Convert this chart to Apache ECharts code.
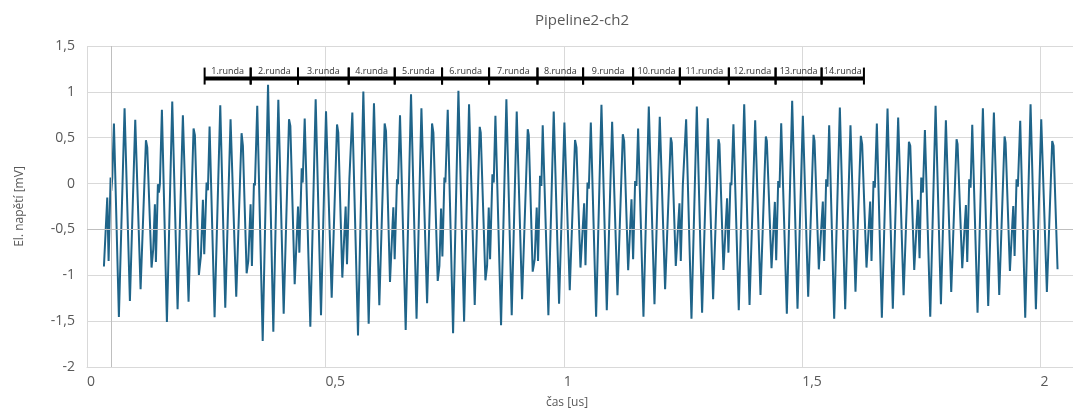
<!DOCTYPE html>
<html>
<head>
<meta charset="utf-8">
<title>Pipeline2-ch2</title>
<script src="https://cdn.jsdelivr.net/npm/echarts@6/dist/echarts.min.js"></script>
<style>
    html, body { margin: 0; padding: 0; background: #fff; }
    #chart { width: 1073px; height: 414px; }
</style>
</head>
<body>
<div id="chart"></div>
<script>
// čas [us]
const timeUs = [
    0.0355, 0.0425, 0.0453, 0.0495, 0.0509, 0.0530, 0.0565, 0.0669, 0.0788, 0.0900,
    0.1012, 0.1124, 0.1236, 0.1264, 0.1354, 0.1389, 0.1424, 0.1445, 0.1487, 0.1508,
    0.1529, 0.1571, 0.1676, 0.1788, 0.1900, 0.2011, 0.2130, 0.2235, 0.2263, 0.2347,
    0.2389, 0.2431, 0.2459, 0.2508, 0.2536, 0.2571, 0.2676, 0.2795, 0.2900, 0.3011,
    0.3130, 0.3242, 0.3270, 0.3348, 0.3383, 0.3431, 0.3459, 0.3501, 0.3522, 0.3571,
    0.3685, 0.3797, 0.3908, 0.4013, 0.4125, 0.4237, 0.4265, 0.4356, 0.4426, 0.4454,
    0.4503, 0.4524, 0.4566, 0.4684, 0.4796, 0.4908, 0.5013, 0.5132, 0.5244, 0.5270,
    0.5355, 0.5425, 0.5453, 0.5503, 0.5531, 0.5565, 0.5684, 0.5796, 0.5908, 0.6019,
    0.6131, 0.6243, 0.6271, 0.6355, 0.6425, 0.6453, 0.6502, 0.6523, 0.6565, 0.6684,
    0.6796, 0.6912, 0.7014, 0.7133, 0.7237, 0.7265, 0.7356, 0.7391, 0.7426, 0.7454,
    0.7496, 0.7517, 0.7566, 0.7678, 0.7790, 0.7909, 0.8013, 0.8132, 0.8237, 0.8258,
    0.8356, 0.8391, 0.8426, 0.8454, 0.8503, 0.8531, 0.8566, 0.8684, 0.8796, 0.8908,
    0.9013, 0.9125, 0.9244, 0.9265, 0.9348, 0.9390, 0.9432, 0.9460, 0.9502, 0.9530,
    0.9558, 0.9677, 0.9789, 0.9901, 1.0013, 1.0125, 1.0236, 1.0266, 1.0350, 1.0427,
    1.0455, 1.0497, 1.0525, 1.0567, 1.0678, 1.0790, 1.0902, 1.1014, 1.1126, 1.1238,
    1.1266, 1.1350, 1.1420, 1.1454, 1.1496, 1.1524, 1.1559, 1.1671, 1.1783, 1.1902,
    1.2013, 1.2125, 1.2244, 1.2265, 1.2349, 1.2426, 1.2454, 1.2496, 1.2524, 1.2566,
    1.2678, 1.2790, 1.2901, 1.3020, 1.3132, 1.3244, 1.3265, 1.3349, 1.3425, 1.3453,
    1.3495, 1.3516, 1.3558, 1.3670, 1.3784, 1.3896, 1.4014, 1.4126, 1.4238, 1.4259,
    1.4357, 1.4427, 1.4455, 1.4497, 1.4525, 1.4560, 1.4678, 1.4790, 1.4902, 1.5014,
    1.5126, 1.5238, 1.5259, 1.5349, 1.5433, 1.5461, 1.5503, 1.5531, 1.5566, 1.5671,
    1.5790, 1.5902, 1.6013, 1.6118, 1.6230, 1.6258, 1.6349, 1.6426, 1.6454, 1.6496,
    1.6524, 1.6566, 1.6671, 1.6790, 1.6901, 1.7013, 1.7127, 1.7239, 1.7267, 1.7350,
    1.7427, 1.7462, 1.7497, 1.7532, 1.7574, 1.7686, 1.7798, 1.7910, 1.8014, 1.8126,
    1.8238, 1.8259, 1.8357, 1.8434, 1.8462, 1.8504, 1.8532, 1.8567, 1.8678, 1.8790,
    1.8902, 1.9021, 1.9133, 1.9245, 1.9266, 1.9357, 1.9427, 1.9455, 1.9496, 1.9524,
    1.9573, 1.9678, 1.9790, 1.9902, 2.0014, 2.0132, 2.0244, 2.0272, 2.0356
];
// El. napětí [mV]
const voltageMv = [
    -0.905, -0.153, -0.844, 0.065, -0.080, 0.065, 0.655, -1.455, 0.822, -1.280,
    0.695, -1.153, 0.473, 0.393, -0.916, -0.716, -0.225, -0.855, -0.007, -0.098,
    -0.007, 0.804, -1.509, 0.895, -1.371, 0.745, -1.287, 0.600, 0.527, -0.996,
    -0.789, -0.178, -0.771, 0.011, -0.073, 0.622, -1.458, 0.855, -1.353, 0.702,
    -1.233, 0.549, 0.410, -0.978, -0.844, -0.225, -0.898, 0.004, -0.020, 0.847,
    -1.716, 1.076, -1.615, 0.913, -1.418, 0.702, 0.629, -1.098, -0.251, -0.753,
    0.167, 0.011, 0.709, -1.560, 0.920, -1.436, 0.789, -1.244, 0.644, 0.556,
    -1.025, -0.251, -0.880, 0.047, 0.029, 0.775, -1.655, 1.004, -1.527, 0.876,
    -1.327, 0.655, 0.575, -1.073, -0.258, -0.825, 0.047, -0.007, 0.745, -1.596,
    0.975, -1.473, 0.822, -1.305, 0.655, 0.556, -1.062, -0.898, -0.273, -0.796,
    0.065, 0.011, 0.804, -1.633, 1.011, -1.505, 0.865, -1.324, 0.618, 0.556,
    -1.055, -0.898, -0.262, -0.825, 0.102, 0.011, 0.738, -1.545, 0.920, -1.436,
    0.785, -1.262, 0.593, 0.527, -0.960, -0.825, -0.262, -0.844, 0.084, -0.025,
    0.636, -1.436, 0.785, -1.309, 0.665, -1.164, 0.476, 0.393, -0.916, -0.215,
    -0.891, 0.011, -0.055, 0.665, -1.451, 0.858, -1.382, 0.673, -1.218, 0.538,
    0.465, -0.945, -0.171, -0.825, 0.029, -0.025, 0.600, -1.451, 0.840, -1.316,
    0.727, -1.153, 0.502, 0.447, -0.898, -0.215, -0.844, -0.025, -0.007, 0.702,
    -1.473, 0.840, -1.407, 0.713, -1.262, 0.484, 0.429, -0.942, -0.160, -0.753,
    0.011, -0.018, 0.647, -1.382, 0.865, -1.324, 0.691, -1.215, 0.513, 0.465,
    -0.924, -0.200, -0.836, 0.029, -0.044, 0.658, -1.418, 0.902, -1.364, 0.738,
    -1.233, 0.531, 0.465, -0.935, -0.196, -0.844, 0.047, -0.033, 0.636, -1.473,
    0.829, -1.371, 0.636, -1.178, 0.520, 0.429, -0.916, -0.196, -0.844, 0.029,
    -0.044, 0.655, -1.462, 0.818, -1.364, 0.720, -1.218, 0.455, 0.411, -0.942,
    -0.178, -0.815, 0.065, -0.098, 0.585, -1.451, 0.847, -1.316, 0.691, -1.182,
    0.484, 0.429, -0.924, -0.233, -0.855, 0.047, -0.044, 0.640, -1.407, 0.822,
    -1.335, 0.775, -1.215, 0.513, 0.447, -0.953, -0.244, -0.789, 0.047, -0.033,
    0.684, -1.462, 0.865, -1.371, 0.702, -1.182, 0.465, 0.411, -0.935
];

// hranice jednotlivých rund [us] a jejich popisky
const roundBounds = [0.2467, 0.3433, 0.4425, 0.5489, 0.6454, 0.7447, 0.8433, 0.9448,
    1.0405, 1.1454, 1.2434, 1.3462, 1.4442, 1.5407, 1.6295];
const roundNames = ['1.runda', '2.runda', '3.runda', '4.runda', '5.runda', '6.runda', '7.runda',
    '8.runda', '9.runda', '10.runda', '11.runda', '12.runda', '13.runda', '14.runda'];
const roundLevel = 1.145;

// osy
const xMin = 0, xMax = 2.068, xStep = 0.5;
const yMin = -2, yMax = 1.5, yStep = 0.5;
const axisCrossT = 0.048, axisCrossV = -0.5;

const comma = v => String(v).replace('.', ',');
const font = '"Open Sans", "Noto Sans", sans-serif';

const wave = timeUs.map((t, i) => [t, voltageMv[i]]);
const rounds = roundNames.map((n, i) => [roundBounds[i], roundBounds[i + 1], roundLevel]);

var myChart = echarts.init(document.getElementById('chart'));
var option = {
    animation: false,
    title: {
        text: 'Pipeline2-ch2',
        left: 530,
        top: 8,
        textStyle: { color: '#595959', fontSize: 15, fontWeight: 'normal', fontFamily: font }
    },
    grid: { left: 87, right: 0, top: 46, bottom: 45 },
    xAxis: {
        type: 'value',
        min: xMin,
        max: xMax,
        interval: xStep,
        name: 'čas [us]',
        nameLocation: 'middle',
        nameGap: 30,
        nameTextStyle: { color: '#595959', fontSize: 12, fontFamily: font, padding: [0, 26, 0, 0] },
        axisLine: { show: true, onZero: false, lineStyle: { color: '#d9d9d9' } },
        axisTick: { show: false },
        axisLabel: {
            color: '#595959', fontSize: 14, fontFamily: font, margin: 8,
            align: 'left', showMaxLabel: false, formatter: comma
        },
        splitLine: { show: true, lineStyle: { color: '#d9d9d9' } }
    },
    yAxis: {
        type: 'value',
        min: yMin,
        max: yMax,
        interval: yStep,
        name: 'El. napětí [mV]',
        nameLocation: 'middle',
        nameGap: 61,
        nameTextStyle: { color: '#595959', fontSize: 12, fontFamily: font },
        axisLine: { show: false },
        axisTick: { show: false },
        axisLabel: { color: '#595959', fontSize: 14, fontFamily: font, margin: 12, formatter: comma },
        splitLine: { show: true, lineStyle: { color: '#d9d9d9' } }
    },
    series: [
        {
            name: 'ch2',
            type: 'line',
            data: wave,
            showSymbol: false,
            lineStyle: { color: '#1f6489', width: 2 },
            itemStyle: { color: '#1f6489' },
            markLine: {
                silent: true,
                symbol: 'none',
                label: { show: false },
                lineStyle: { color: '#bfbfbf', width: 1, type: 'solid' },
                data: [{ yAxis: axisCrossV }, { xAxis: axisCrossT }]
            },
            z: 3
        },
        {
            name: 'rundy',
            type: 'custom',
            data: rounds,
            encode: { x: [0, 1], y: 2 },
            clip: false,
            z: 5,
            renderItem: function (params, api) {
                var a = api.coord([api.value(0), api.value(2)]);
                var b = api.coord([api.value(1), api.value(2)]);
                return {
                    type: 'group',
                    children: [
                        { type: 'line', shape: { x1: a[0], y1: a[1], x2: b[0], y2: b[1] }, style: { stroke: '#000', lineWidth: 4 } },
                        { type: 'line', shape: { x1: a[0], y1: a[1] - 11, x2: a[0], y2: a[1] + 6 }, style: { stroke: '#000', lineWidth: 2 } },
                        { type: 'line', shape: { x1: b[0], y1: b[1] - 11, x2: b[0], y2: b[1] + 6 }, style: { stroke: '#000', lineWidth: 2 } },
                        {
                            type: 'text',
                            style: {
                                text: roundNames[params.dataIndex],
                                x: (a[0] + b[0]) / 2, y: a[1] - 3,
                                align: 'center', verticalAlign: 'bottom',
                                fontSize: 9, fontFamily: font, fill: '#333'
                            }
                        }
                    ]
                };
            }
        }
    ]
};
myChart.setOption(option);
</script>
</body>
</html>
